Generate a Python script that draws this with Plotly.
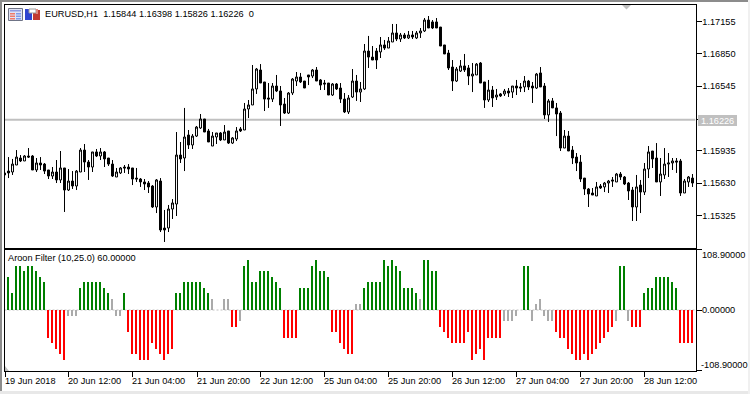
import plotly.graph_objects as go

W, H = 750, 394
FONT = "Liberation Sans"

# EURUSD H1 prices in points (1e-5); first candle sits just inside the left frame
opens = [115725,115743,115734,115800,115866,115838,115885,115885,115753,115819,
115809,115753,115696,115734,115659,115772,115564,115649,115602,115734,
115941,115828,115781,115923,115885,115923,115866,115809,115687,115725,
115781,115781,115772,115677,115668,115640,115630,115602,115404,115649,
115206,115206,115385,115432,115894,115866,116083,115989,116073,116149,
116234,116121,115979,116064,116102,116036,116121,116007,116045,116140,
116130,116328,116366,116517,116696,116583,116432,116422,116545,116498,
116375,116290,116479,116592,116630,116592,116649,116639,116696,116602,
116573,116573,116460,116564,116526,116422,116300,116441,116592,116488,
116517,116875,116818,116875,116866,116932,116903,116960,117045,116988,
117026,116998,117026,116998,117045,117064,117167,117149,117149,117101,
116932,116856,116724,116592,116686,116734,116715,116639,116649,116762,
116583,116413,116507,116441,116470,116470,116498,116488,116545,116536,
116536,116592,116545,116526,116668,116545,116272,116404,116338,116290,
115960,116073,115941,115875,115828,115677,115574,115536,115508,115602,
115593,115630,115659,115640,115715,115687,115630,115564,115404,115611,
115545,115762,115932,115866,115640,115706,115809,115819,115838,115838,
115536,115640,115677]
highs = [115734,115875,115857,115941,115894,115894,115960,115894,115866,115875,
115819,115753,115781,115847,115932,115772,115762,115743,115753,115960,
115998,115847,115923,115951,115960,115932,115866,115847,115772,115781,
115800,115809,115772,115772,115677,115668,115649,115611,115668,115677,
115376,115423,115479,116111,116017,116338,116130,116092,116168,116281,
116234,116140,116111,116102,116111,116177,116121,116064,116158,116158,
116385,116413,116743,116715,116752,116583,116573,116573,116649,116545,
116432,116488,116620,116677,116668,116592,116649,116705,116724,116611,
116602,116573,116573,116573,116573,116479,116460,116705,116649,116583,
116941,117017,116922,116903,117007,116979,117007,117130,117130,117045,
117045,117064,117064,117064,117092,117186,117205,117167,117186,117101,
116932,116885,116790,116724,116790,116847,116743,116762,116762,116771,
116583,116602,116545,116517,116479,116517,116526,116545,116602,116573,
116639,116602,116583,116668,116724,116573,116422,116432,116385,116309,
116130,116121,115979,115913,115894,115677,115583,115583,115640,115621,
115640,115659,115687,115725,115734,115696,115640,115593,115706,115659,
115819,115979,115932,116007,115866,115960,115913,115866,115866,115857,
115668,115696,115715]
lows = [115687,115677,115706,115800,115828,115838,115866,115753,115734,115753,
115715,115668,115668,115630,115630,115357,115555,115574,115564,115734,
115734,115659,115734,115875,115847,115781,115791,115687,115687,115715,
115725,115715,115611,115640,115593,115564,115536,115395,115347,115168,
115074,115168,115291,115319,115819,115743,115951,115951,116064,116140,
116111,116017,115979,115998,116026,116036,115998,115998,116026,116111,
116130,116243,116366,116470,116573,116309,116338,116394,116488,116168,
116281,116281,116460,116545,116573,116526,116554,116620,116592,116507,
116507,116460,116451,116507,116385,116290,116281,116432,116404,116394,
116507,116715,116790,116705,116809,116885,116903,116960,116969,116960,
116988,116988,116988,116988,116998,117054,117092,117082,117092,116922,
116847,116696,116498,116583,116677,116677,116554,116488,116649,116573,
116338,116394,116347,116413,116441,116451,116441,116432,116460,116488,
116488,116507,116385,116517,116536,116234,116206,116338,116073,115932,
115960,115932,115809,115743,115640,115517,115404,115517,115508,115574,
115545,115536,115593,115640,115659,115611,115470,115272,115272,115347,
115517,115677,115772,115640,115508,115668,115687,115753,115725,115508,
115536,115593,115593]
closes = [115706,115725,115809,115875,115838,115885,115875,115753,115819,115800,
115743,115696,115734,115659,115772,115564,115649,115602,115743,115941,
115828,115781,115923,115885,115923,115857,115809,115696,115734,115772,
115772,115762,115668,115668,115640,115621,115593,115404,115659,115187,
115187,115385,115442,115894,115857,116064,115989,116073,116158,116234,
116111,116017,116073,116102,116036,116111,116007,116055,116121,116121,
116328,116366,116517,116705,116573,116422,116422,116545,116498,116366,
116290,116479,116611,116630,116583,116526,116630,116696,116592,116554,
116564,116460,116564,116517,116422,116300,116432,116592,116488,116517,
116875,116818,116790,116790,116932,116903,116969,117045,116988,117026,
116998,117026,117007,117045,117064,117167,117092,117092,117092,116922,
116847,116715,116592,116705,116734,116696,116639,116658,116752,116573,
116413,116507,116432,116460,116451,116498,116479,116545,116526,116526,
116592,116536,116526,116658,116536,116272,116404,116338,116281,115960,
116073,115932,115866,115819,115668,115574,115527,115517,115593,115583,
115630,115649,115649,115715,115687,115621,115555,115404,115593,115545,
115762,115923,115857,115640,115715,115809,115819,115838,115828,115536,
115649,115687,115630]

aroon = [60,30,80,80,70,80,80,70,60,50,-50,-60,-70,-80,-90,-10,-10,-10,40,50,
50,50,50,50,40,30,20,-10,-10,30,-40,-80,-80,-90,-90,-90,-60,-70,-80,-90,
-80,-70,30,30,50,50,50,50,50,40,30,20,0,0,20,20,-30,-30,-20,80,
90,50,50,70,70,70,60,50,40,-50,-50,-50,-50,40,40,40,80,90,70,70,
60,-40,-40,-60,-70,-80,-80,10,10,40,50,50,50,50,90,80,90,80,70,40,
40,40,30,20,90,90,70,70,-30,-40,-50,-60,-60,-60,-60,-40,-90,-80,-70,-90,
-50,-50,-50,-50,-20,-20,-20,-10,0,80,80,-20,10,20,-10,-20,-20,-40,-50,-50,
-70,-80,-90,-90,-80,-90,-80,-70,-60,-50,-40,-30,-20,80,80,-20,-30,-30,-30,30,
40,40,60,60,60,60,50,40,-60,-60,-60,-60]

price_ticks = [1.17155, 1.16850, 1.16545, 1.16226, 1.15935, 1.15630, 1.15325]
price_labels = ["1.17155", "1.16850", "1.16545", "", "1.15935", "1.15630", "1.15325"]
last_price = 1.16226
aroon_limit = 108.9
time_positions = [-0.75, 15, 31, 47.25, 63, 79, 95, 111, 127, 143, 159]
time_labels = ["19 Jun 2018", "20 Jun 12:00", "21 Jun 04:00", "21 Jun 20:00",
               "22 Jun 12:00", "25 Jun 04:00", "25 Jun 20:00", "26 Jun 12:00",
               "27 Jun 04:00", "27 Jun 20:00", "28 Jun 12:00"]
header = "EURUSD,H1\u00a0\u00a01.15844 1.16398 1.15826 1.16226\u00a0\u00a00"
subtitle = "Aroon Filter (10,25.0) 60.00000"


def fx(px):
    return px / W


def fy(px):
    return 1 - px / H


def price_at(px):
    return (117356 - 9.43 * px) / 1e5


def bar_colour(v):
    if abs(v) <= 20:
        return "#aaaaaa"
    return "#008000" if v > 0 else "#ff0000"


def rect(x0, y0, x1, y1, fill, line=None):
    return dict(type="rect", xref="paper", yref="paper", layer="above",
                x0=fx(x0), x1=fx(x1), y0=fy(y0), y1=fy(y1), fillcolor=fill,
                line=dict(width=1 if line else 0, color=line or fill))


def poly(points, fill):
    path = "M " + " L ".join(f"{fx(a):.5f},{fy(b):.5f}" for a, b in points) + " Z"
    return dict(type="path", xref="paper", yref="paper", layer="above", path=path,
                fillcolor=fill, line=dict(width=0))


candle_x = list(range(-1, len(opens) - 1))
bar_x = list(range(len(aroon)))

fig = go.Figure()
fig.add_trace(go.Candlestick(
    x=candle_x,
    open=[v / 1e5 for v in opens], high=[v / 1e5 for v in highs],
    low=[v / 1e5 for v in lows], close=[v / 1e5 for v in closes],
    whiskerwidth=0, xaxis="x", yaxis="y", hoverinfo="skip",
    increasing=dict(fillcolor="#ffffff", line=dict(color="#000000", width=1)),
    decreasing=dict(fillcolor="#000000", line=dict(color="#000000", width=1)),
))
fig.add_trace(go.Bar(
    x=bar_x, y=aroon, width=0.5, offset=-0.375, xaxis="x2", yaxis="y2", hoverinfo="skip",
    marker=dict(color=[bar_colour(v) for v in aroon], line=dict(width=0)),
))

x_range = [-1.0, 171.75]
plot_left, plot_right = 4.5, 695.5
top_a, bot_a = 4.5, 247.5
top_b, bot_b = 249.5, 370.5

shapes = [
    dict(type="line", xref="x", yref="y", x0=x_range[0], x1=x_range[1], y0=last_price, y1=last_price,
         layer="below", line=dict(color="#c0c0c0", width=2)),
    dict(type="line", xref="x2", yref="y2", x0=x_range[0], x1=x_range[1], y0=0, y1=0,
         layer="below", line=dict(color="#c0c0c0", width=1, dash="2px,2px")),
    # window chrome
    rect(0, 0, 750, 2, "#8c8c8c"),
    rect(0, 0, 2, 394, "#8c8c8c"),
    rect(0, 391, 750, 394, "#e8e8e8"),
    rect(748, 0, 750, 394, "#f0f0f0"),
    # scroll markers
    poly([(622, 5), (631, 5), (626.5, 9.5)], "#c0c0c0"),
    poly([(5, 371), (5, 366), (9, 371)], "#c0c0c0"),
    # last price box
    rect(698, 115, 737, 126, "#c0c0c0"),
    # toolbar icons
    rect(8.5, 8.5, 22.5, 20.5, "#dfe3f5", "#6f7486"),
    rect(10, 10, 21, 11.5, "#8f9be0"),
    rect(10, 13, 15, 14.5, "#f07a68"),
    rect(16, 13, 21, 14.5, "#7f9be8"),
    rect(10, 15.5, 15, 17, "#f07a68"),
    rect(16, 15.5, 21, 17, "#7f9be8"),
    rect(10, 18, 15, 19.5, "#f07a68"),
    rect(16, 18, 21, 19.5, "#7f9be8"),
    rect(25, 9, 32, 20, "#2f45d0"),
    rect(33, 10, 40, 20, "#c23a32"),
    rect(29, 9, 36, 13, "#ffffff", "#9a9a9a"),
    rect(36, 9, 38, 14, "#e08a80"),
]

txt = dict(family=FONT, size=9.2, color="#000000")
annotations = [
    dict(xref="paper", yref="paper", x=fx(43), y=fy(14), text=header, showarrow=False,
         xanchor="left", yanchor="middle", font=txt),
    dict(xref="paper", yref="paper", x=fx(6), y=fy(258), text=subtitle, showarrow=False,
         xanchor="left", yanchor="middle", font=txt),
    dict(xref="paper", yref="paper", x=fx(699), y=fy(120.5), text=f"{last_price:.5f}", showarrow=False,
         xanchor="left", yanchor="middle", font=dict(family=FONT, size=9.2, color="#ffffff")),
    dict(xref="paper", yref="paper", x=fx(700), y=fy(255), text=f"{aroon_limit:.5f}", showarrow=False,
         xanchor="left", yanchor="middle", font=txt),
    dict(xref="paper", yref="paper", x=fx(700), y=fy(310), text=f"{0:.5f}", showarrow=False,
         xanchor="left", yanchor="middle", font=txt),
    dict(xref="paper", yref="paper", x=fx(699), y=fy(365), text=f"{-aroon_limit:.5f}", showarrow=False,
         xanchor="left", yanchor="middle", font=txt),
]
for pos, label in zip(time_positions, time_labels):
    annotations.append(dict(xref="x2", yref="paper", x=pos, y=fy(381), text=label, showarrow=False,
                            xanchor="left", yanchor="middle", xshift=-3, font=txt))

axis_line = dict(showline=True, linecolor="#000000", linewidth=1, mirror=True, showgrid=False, zeroline=False)

fig.update_layout(
    width=W, height=H, autosize=False,
    margin=dict(l=0, r=0, t=0, b=0),
    paper_bgcolor="#ffffff", plot_bgcolor="#ffffff",
    showlegend=False, bargap=0, shapes=shapes, annotations=annotations,
    font=txt,
    xaxis=dict(domain=[fx(plot_left), fx(plot_right)], range=x_range, type="linear", anchor="y",
               rangeslider=dict(visible=False), showticklabels=False, ticks="", **axis_line),
    yaxis=dict(domain=[fy(bot_a), fy(top_a)], range=[price_at(bot_a), price_at(top_a)], side="right",
               anchor="x", tickvals=price_ticks, ticktext=price_labels, ticks="outside", ticklen=5,
               tickcolor="#000000", tickwidth=1, tickfont=txt, ticklabelstandoff=-1, **axis_line),
    xaxis2=dict(domain=[fx(plot_left), fx(plot_right)], range=x_range, type="linear", anchor="y2",
                tickvals=time_positions, showticklabels=False, ticks="outside", ticklen=5,
                tickcolor="#000000", tickwidth=1, **axis_line),
    yaxis2=dict(domain=[fy(bot_b), fy(top_b)], range=[-aroon_limit, aroon_limit], side="right",
                anchor="x2", tickvals=[-aroon_limit, 0, aroon_limit], ticktext=["", "", ""],
                ticks="outside", ticklen=5, tickcolor="#000000", tickwidth=1, **axis_line),
)

fig.write_html("out.html", config={"displayModeBar": False, "staticPlot": True},
               post_script="document.body.style.margin='0';")
